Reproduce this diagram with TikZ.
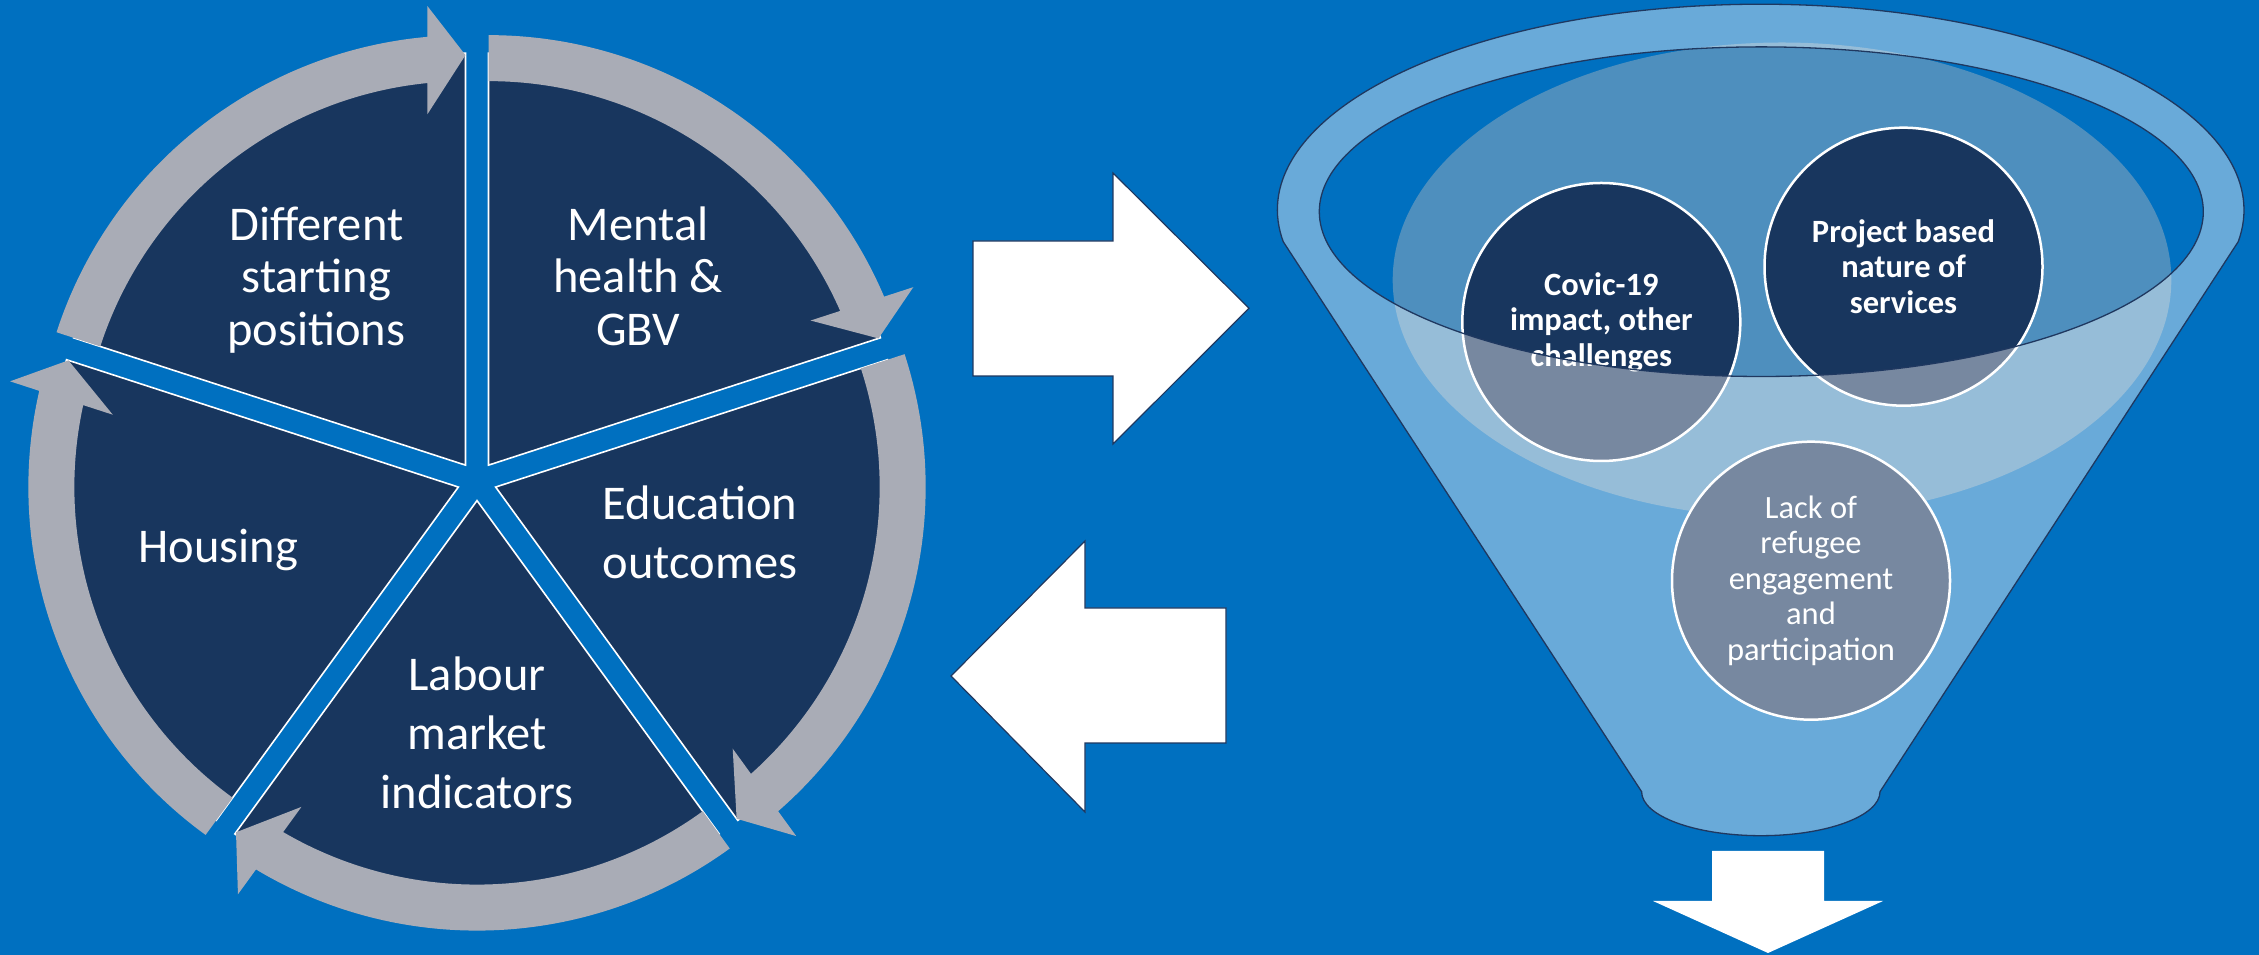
\documentclass[tikz,border=0pt]{standalone}
\usepackage{fontspec}
\setmainfont{Carlito}
\definecolor{bgblue}{HTML}{0070C0}
\definecolor{navy}{HTML}{18365E}
\definecolor{ringgray}{HTML}{A9ACB6}
\definecolor{funline}{HTML}{1F3860}
\definecolor{bowl}{HTML}{4E8FBE}
\begin{document}
\begin{tikzpicture}[x=1pt,y=1pt,
  sector/.style={fill=navy, draw=white, line width=1.6pt, line join=miter},
  ringarrow/.style={fill=ringgray},
  pielabel/.style={text=white, align=center, anchor=base, inner sep=0pt, font=\fontsize{48.5}{52.5}\selectfont},
  pielabelwide/.style={pielabel, font=\fontsize{48.5}{59.3}\selectfont},
  blockarrow/.style={fill=white, draw=funline, line width=1.2pt},
  bubble/.style={circle, fill=navy, draw=white, line width=2.5pt, minimum size=278pt, inner sep=0pt, text=white, align=center, font=\fontsize{32.5}{35.5}\selectfont},
  boldbubble/.style={bubble, font=\bfseries\fontsize{32.5}{35.5}\selectfont},
  funnelline/.style={draw=funline, line width=1.3pt},
  funnelglass/.style={fill=white, fill opacity=0.41, even odd rule}]

\useasboundingbox (0,0) rectangle (2259,955);
\fill[bgblue] (0,0) rectangle (2259,955);

% ---------- segmented cycle ----------
\begin{scope}[shift={(477,474)}]
  \foreach \p in {54,-18,-90,-162,126}{
    \begin{scope}[shift={(\p:19.6)}]
      \pgfmathsetmacro\s{\p+36}
      \pgfmathsetmacro\e{\p-36}
      \path[sector] (0,0) -- (\s:412) arc[start angle=\s, end angle=\e, radius=412] -- cycle;
    \end{scope}
  }
  \foreach \p in {54,-18,-90,-162,126}{
    \begin{scope}[shift={(\p:19.6)}]
      \pgfmathsetmacro\s{\p+36}
      \pgfmathsetmacro\e{\p-36}
      \pgfmathsetmacro\eo{\e+5.07}
      \pgfmathsetmacro\ei{\e+5.68}
      \path[ringarrow] (\s:430) arc[start angle=\s, end angle=\eo, radius=430]
        -- ({459*cos(\e)-38*sin(\e)},{459*sin(\e)+38*cos(\e)})
        -- (\e:410)
        -- ({351*cos(\e)-38*sin(\e)},{351*sin(\e)+38*cos(\e)})
        -- (\ei:384) arc[start angle=\ei, end angle=\s, radius=384] -- cycle;
    \end{scope}
  }
\end{scope}

% anchor=base sits on the last line's baseline
\node[pielabel] (diff) at (316.4,609.5) {Different\\starting\\positions};
\node[pielabel] (mental) at (638.2,609.5) {Mental\\health \&\\GBV};
\node[pielabelwide] (edu) at (700,376.2) {Education\\outcomes};
\node[pielabelwide] (labour) at (477,146) {Labour\\market\\indicators};
\node[pielabel] (housing) at (218.2,392.6) {Housing};

% ---------- block arrows ----------
\path[blockarrow] (973,714) -- (1113,714) -- (1113,782) -- (1249,646.7) -- (1113,511) -- (1113,579) -- (973,579) -- cycle;
\path[blockarrow] (951,279) -- (1085,414) -- (1085,347) -- (1226,347) -- (1226,212) -- (1085,212) -- (1085,143) -- cycle;

% ---------- funnel ----------
\fill[bowl] (1782,675) ellipse[x radius=389.3, y radius=237.5];

\node[boldbubble] (covic) at (1601.3,633) {Covic-19\\impact, other\\challenges};
\node[boldbubble] (project) at (1903.5,688.3) {Project based\\nature of\\services};
\node[bubble] (lack) at (1811,374.3) {Lack of\\refugee\\engagement\\and\\participation};

\path[funnelglass] (1283.2,713.3) arc[start angle=188.86, end angle=-8.86, x radius=483.3, y radius=205.8]
  -- (1880,163.3) arc[start angle=0, end angle=-180, x radius=119.2, y radius=44] -- cycle
  (1761.3,743.3) ellipse[x radius=442, y radius=164.8];
\path[funnelline] (1283.2,713.3) arc[start angle=188.86, end angle=-8.86, x radius=483.3, y radius=205.8]
  -- (1880,163.3) arc[start angle=0, end angle=-180, x radius=119.2, y radius=44] -- cycle;
\path[funnelline] (1761.3,743.3) ellipse[x radius=442, y radius=164.8];

\fill[white] (1712,104) -- (1824,104) -- (1824,54) -- (1883,54) -- (1768,2) -- (1653,54) -- (1712,54) -- cycle;
\end{tikzpicture}
\end{document}
